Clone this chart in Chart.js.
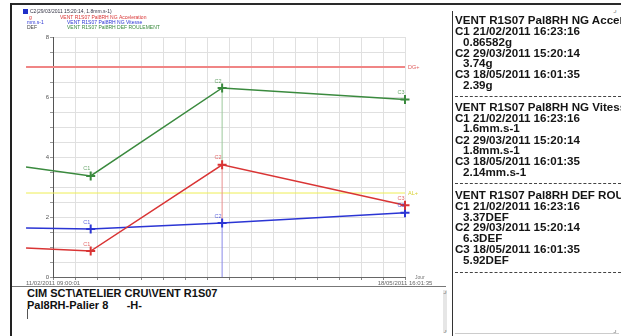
<!DOCTYPE html>
<html>
<head>
<meta charset="utf-8">
<script src="https://cdn.jsdelivr.net/npm/chart.js@4/dist/chart.umd.min.js"></script>
<style>
  html, body { margin: 0; padding: 0; background: #fff; }
  body { width: 621px; height: 336px; position: relative; overflow: hidden; font-family: "Liberation Sans", Arial, sans-serif; }
  #plotBox { position: absolute; left: 0; top: 0; width: 450px; height: 286px; }
  .ln { position: absolute; background: #333; }
  #bottomText { position: absolute; left: 27px; top: 287px; font-weight: bold; font-size: 11px; line-height: 12px; color: #111; white-space: pre; }
  #caret { position: absolute; left: 27px; top: 309px; width: 1px; height: 10px; background: #555; }
  #panel { position: absolute; left: 455px; top: 0; width: 166px; height: 336px; overflow: hidden; font-weight: bold; font-size: 11.6px; color: #151515; }
  #panel div { position: absolute; left: 0; white-space: pre; line-height: 11px; }
  #panel .ind { left: 8px; }
  #panel .dash { left: 0; width: 166px; height: 0; border-top: 1px dashed #444; }
  .corner { position: absolute; font-size: 8px; color: #777; }
</style>
</head>
<body>
<div id="plotBox"><canvas id="chart"></canvas></div>

<div class="ln" style="left:11px; top:3px; width:610px; height:2px; background:#2a2a2a"></div>
<div class="ln" style="left:10px; top:3px; width:2px; height:333px; background:#222"></div>
<div class="ln" style="left:12px; top:286px; width:434px; height:1px; background:#777"></div>
<div class="ln" style="left:452px; top:11px; width:1px; height:325px; background:#333"></div>
<div class="ln" style="left:443px; top:290px; width:4px; height:42px; background:#e6e6e6"></div>
<span class="corner" style="left:443px; top:286px">&#8991;</span>
<span class="corner" style="left:443px; top:325px">&#8991;</span>
<div class="ln" style="left:455px; top:333px; width:164px; height:1px; background:#ccc"></div>

<div id="bottomText">CIM SCT\ATELIER CRU\VENT R1S07
Pal8RH-Palier 8      -H-</div>
<div id="caret"></div>

<div id="panel"></div>
<span class="corner" style="left:613px; top:5px; background:#fff; width:8px; height:12px">&#8991;</span>
<span class="corner" style="left:613px; top:325px">&#8991;</span>

<script>
// dates of the points (first one is an earlier reading, left of the axis start)
const pointDates = ['04/02/2011 00:00:00', '21/02/2011 16:23:16', '29/03/2011 15:20:14', '18/05/2011 16:01:35'];
const pointNames = ['', 'C1', 'C2', 'C3'];
const accelValues = [0.97, 0.86582, 3.74, 2.39];     // g
const vitesseValues = [1.63, 1.6, 1.8, 2.14];       // mm.s-1
const defValues = [3.67, 3.37, 6.3, 5.92];          // DEF
const axisStart = '11/02/2011 09:00:01';
const axisEnd = '18/05/2011 16:01:35';
const yTickValues = [0, 0.5, 1, 1.5, 2, 2.5, 3, 3.5, 4, 4.5, 5, 5.5, 6, 6.5, 7, 7.5, 8];
const yTickLabels = ['0', '', '', '', '2', '', '', '', '4', '', '', '', '6', '', '', '', '8'];
const xDivisions = 16;
const dangerLevel = 7;
const alarmLevel = 2.8;
const cursorIndex = 2;

const seriesNames = ['VENT R1S07 Pal8RH NG Acceleration', 'VENT R1S07 Pal8RH NG Vitesse', 'VENT R1S07 Pal8RH DEF ROULEMENT'];
const seriesUnits = ['g', 'mm.s-1', 'DEF'];
const cursorText = 'C2(29/03/2011 15:20:14, 1.8mm.s-1)';

const panelLines = [
  ['t', 20, 'VENT R1S07 Pal8RH NG Acceleration'],
  ['c', 31, 'C1', '21/02/2011 16:23:16'],
  ['i', 42, '0.86582g'],
  ['c', 53, 'C2', '29/03/2011 15:20:14'],
  ['i', 63, '3.74g'],
  ['c', 74, 'C3', '18/05/2011 16:01:35'],
  ['i', 85, '2.39g'],
  ['d', 96],
  ['t', 107, 'VENT R1S07 Pal8RH NG Vitesse'],
  ['c', 118, 'C1', '21/02/2011 16:23:16'],
  ['i', 128, '1.6mm.s-1'],
  ['c', 140, 'C2', '29/03/2011 15:20:14'],
  ['i', 150, '1.8mm.s-1'],
  ['c', 161, 'C3', '18/05/2011 16:01:35'],
  ['i', 172, '2.14mm.s-1'],
  ['d', 183],
  ['t', 195, 'VENT R1S07 Pal8RH DEF ROULEMENT'],
  ['c', 206, 'C1', '21/02/2011 16:23:16'],
  ['i', 217, '3.37DEF'],
  ['c', 227, 'C2', '29/03/2011 15:20:14'],
  ['i', 238, '6.3DEF'],
  ['c', 249, 'C3', '18/05/2011 16:01:35'],
  ['i', 260, '5.92DEF'],
  ['d', 272]
];

function toDays(s) {
  const [d, t] = s.split(' ');
  const [dd, mm, yy] = d.split('/').map(Number);
  const [h, mi, se] = t.split(':').map(Number);
  return Date.UTC(yy, mm - 1, dd, h, mi, se) / 86400000;
}

const t0 = toDays(axisStart);
const tMax = toDays(axisEnd) - t0;
const xs = pointDates.map(d => toDays(d) - t0);

function pts(values) {
  return values.map((v, i) => ({ x: xs[i], y: v, name: pointNames[i] }));
}

const RED = '#d93434', BLUE = '#2b35d4', GREEN = '#3a8a3e';

function series(label, values, color) {
  return {
    label: label,
    data: pts(values),
    borderColor: color,
    backgroundColor: color,
    borderWidth: 1.5,
    pointStyle: 'cross',
    pointRadius: ctx => (ctx.raw && ctx.raw.name ? 4.5 : 0),
    pointBorderWidth: 2,
    clip: false,
    order: 1,
    labelColor: color
  };
}

function segment(color, x1, y1, x2, y2, width, order) {
  return {
    data: [{ x: x1, y: y1 }, { x: x2, y: y2 }],
    borderColor: color,
    borderWidth: width,
    pointRadius: 0,
    clip: false,
    order: order
  };
}

const cx = xs[cursorIndex];
const datasets = [
  series(seriesNames[2], defValues, GREEN),
  series(seriesNames[0], accelValues, RED),
  series(seriesNames[1], vitesseValues, BLUE),
  segment('#f08585', xs[0], dangerLevel, tMax, dangerLevel, 2, 3),
  segment('#eeee55', xs[0], alarmLevel, tMax, alarmLevel, 1, 3),
  segment('#8a8ae8', cx, 0, cx, vitesseValues[cursorIndex], 1, 2),
  segment('#e89090', cx, vitesseValues[cursorIndex], cx, accelValues[cursorIndex], 1, 2),
  segment('#9cc89c', cx, accelValues[cursorIndex], cx, defValues[cursorIndex], 1, 2)
];

const decorations = {
  id: 'decorations',
  afterDatasetsDraw(chart) {
    const c = chart.ctx;
    const area = chart.chartArea;
    const ys = chart.scales.y;
    c.save();
    c.textBaseline = 'middle';
    // point names C1..C3
    c.font = '5.5px "Liberation Sans", Arial';
    c.textAlign = 'center';
    chart.data.datasets.forEach((ds, di) => {
      if (!ds.labelColor) return;
      chart.getDatasetMeta(di).data.forEach((el, i) => {
        const name = ds.data[i].name;
        if (!name) return;
        c.fillStyle = ds.labelColor;
        c.globalAlpha = 0.75;
        c.fillText(name, el.x - 4, el.y - 7);
      });
    });
    c.globalAlpha = 1;
    // threshold labels
    c.textAlign = 'left';
    c.font = '5.5px "Liberation Sans", Arial';
    c.fillStyle = '#e06060';
    c.fillText('DG+', area.right + 3, ys.getPixelForValue(dangerLevel));
    c.fillStyle = '#d8d030';
    c.fillText('AL+', area.right + 3, ys.getPixelForValue(alarmLevel));
    c.fillStyle = '#777';
    c.font = '5px "Liberation Sans", Arial';
    c.fillText('Jour', area.right + 10, area.bottom + 1);
    // legend block at top left
    c.fillStyle = '#1f2fc8';
    c.fillRect(23, 9, 5, 5);
    c.font = '5px "Liberation Sans", Arial';
    c.fillStyle = '#334';
    c.fillText(cursorText, 30, 12);
    const unitColors = [RED, BLUE, '#444'];
    const nameColors = [RED, BLUE, GREEN];
    const nameX = [60, 67, 67];
    seriesUnits.forEach((u, i) => {
      const y = 18 + i * 4.8;
      c.fillStyle = unitColors[i];
      c.fillText(u, i === 0 ? 29 : 27, y);
      c.fillStyle = nameColors[i];
      c.fillText(seriesNames[i], nameX[i], y);
    });
    c.restore();
  }
};

new Chart(document.getElementById('chart'), {
  type: 'line',
  data: { datasets: datasets },
  options: {
    responsive: true,
    maintainAspectRatio: false,
    animation: false,
    layout: { padding: { left: 12, top: 37, right: 45, bottom: 0 } },
    plugins: { legend: { display: false }, tooltip: { enabled: false } },
    scales: {
      x: {
        type: 'linear',
        min: 0,
        max: tMax,
        afterBuildTicks: scale => {
          const ticks = [];
          for (let i = 0; i <= xDivisions; i++) ticks.push({ value: tMax * i / xDivisions });
          scale.ticks = ticks;
        },
        afterFit: scale => { scale.height = 9; },
        grid: { color: '#e0e0e0', tickLength: 3, tickColor: '#888' },
        border: { color: '#666' },
        ticks: {
          autoSkip: false,
          maxRotation: 0,
          padding: 0,
          font: { size: 6, family: '"Liberation Sans", Arial' },
          color: '#666',
          callback: (v, i) => (i === 0 ? axisStart : i === xDivisions ? axisEnd : '')
        }
      },
      y: {
        min: 0,
        max: 8,
        afterBuildTicks: scale => { scale.ticks = yTickValues.map(v => ({ value: v })); },
        afterFit: scale => { scale.width = 41; },
        grid: { color: '#e0e0e0', tickLength: 3, tickColor: '#999' },
        border: { color: '#555' },
        ticks: {
          padding: 1,
          font: { size: 6, family: '"Liberation Sans", Arial' },
          color: '#555',
          callback: (v, i) => yTickLabels[i]
        }
      }
    }
  },
  plugins: [decorations]
});

// text panel on the right
const panel = document.getElementById('panel');
panelLines.forEach(l => {
  const d = document.createElement('div');
  if (l[0] === 'd') {
    d.className = 'dash';
    d.style.top = l[1] + 'px';
  } else {
    d.style.top = (l[1] - 6) + 'px';
    if (l[0] === 'i') d.className = 'ind';
    if (l[0] === 'c') {
      d.innerHTML = l[2] + '<span style="position:absolute;left:18px">' + l[3] + '</span>';
      d.style.width = '166px';
    } else {
      d.textContent = l[2];
    }
  }
  panel.appendChild(d);
});
</script>
</body>
</html>
